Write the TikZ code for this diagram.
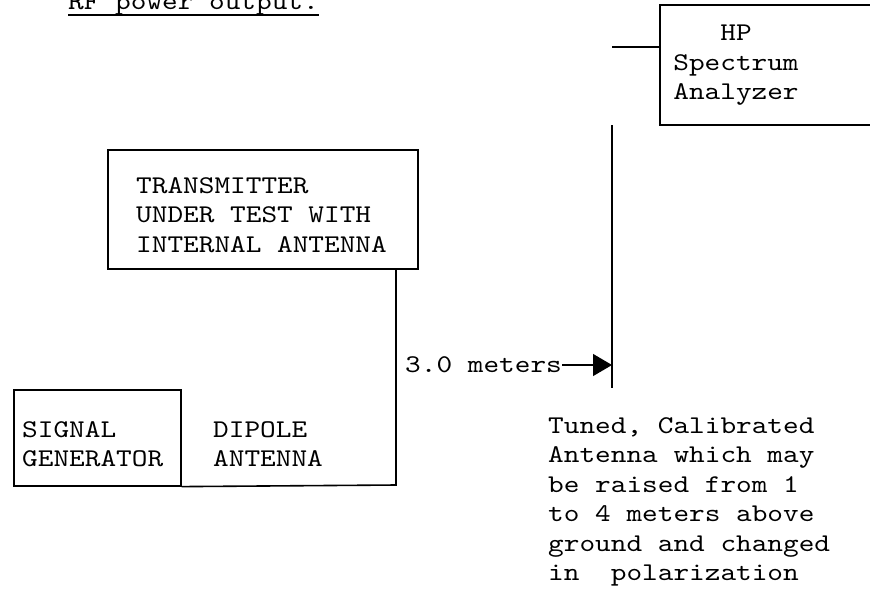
\documentclass[tikz,border=0pt]{standalone}
\usepackage{fontspec}
\setmonofont[FakeStretch=1.17]{lmmono10-regular.otf}
\usetikzlibrary{arrows.meta, positioning}
\tikzset{
  box/.style={draw, line width=1.6pt, inner sep=0pt},
  wire/.style={line width=1.6pt},
  lbl/.style={font=\ttfamily\fontsize{25.5}{29.5}\selectfont, inner sep=0pt},
}

\begin{document}
\begin{tikzpicture}[x=1pt, y=-1pt]
  \useasboundingbox (0,0) rectangle (870,590);
  % heading, cut off at the top
  \node[lbl, anchor=base west] (title) at (68,9) {RF power output.};
  \draw[line width=1.4pt] ([yshift=-6pt]title.base west) -- ([yshift=-6pt]title.base east);

  % spectrum analyzer, runs off the right edge
  \draw[box] (660,5) rectangle (885,125);
  \node[lbl, align=center, anchor=north] (hp) at (736,25) {HP\\Spectrum\\Analyzer};
  \coordinate (hpIn) at (660,47);

  % receive antenna
  \coordinate (antTop) at (612,125);
  \coordinate (antBot) at (612,388);
  \draw[wire] (antTop) -- (antBot);
  \draw[wire] (hpIn) -- (hpIn -| antTop);

  % transmitter
  \node[box, minimum width=310, minimum height=119, anchor=north west] (tx) at (107,149) {};
  \node[lbl, align=left, anchor=north west] (txlbl) at (136,177)
    {TRANSMITTER\\UNDER TEST WITH\\INTERNAL ANTENNA};

  % signal generator + dipole
  \node[box, minimum width=167, minimum height=96, anchor=north west] (sig) at (13,389) {};
  \node[lbl, align=left, anchor=north west] (siglbl) at (22,421) {SIGNAL\\GENERATOR};
  \node[lbl, align=left, anchor=north west] (dip) at (213,421) {DIPOLE\\ANTENNA};
  \coordinate (dipCorner) at (396,485);
  \draw[wire] (sig.south east) -- (dipCorner) -- (dipCorner |- tx.south);

  % distance
  \node[lbl, anchor=west] (dist) at (405,365) {3.0 meters};
  \draw[wire, line width=1.3pt, -{Triangle[length=19pt, width=22pt]}] (dist.east) -- (dist.east -| antTop);

  % note under the antenna
  \foreach \ln [count=\i from 0] in {{Tuned, Calibrated}, {Antenna which may},
      {be raised from 1}, {to 4 meters above}, {ground and changed}, {in~~polarization}}
    \node[lbl, anchor=base west] (note\i) at (548,433+29.5*\i) {\ln};
\end{tikzpicture}
\end{document}
